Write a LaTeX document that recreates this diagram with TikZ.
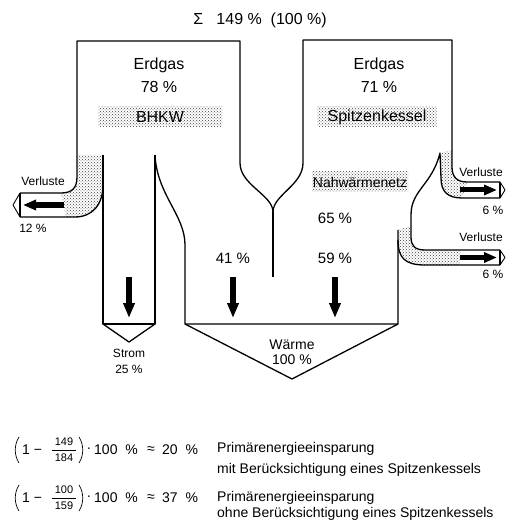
\documentclass[tikz,border=0pt]{standalone}
\usepackage{fontspec}
\setmainfont{Liberation Sans}
\usetikzlibrary{patterns,arrows.meta}
\begin{document}
\begin{tikzpicture}[x=1pt,y=-1pt,
  wall/.style={line width=1.3pt, line join=round},
  capline/.style={line width=0.9pt, line join=round},
  thinline/.style={line width=0.7pt},
  stip/.style={pattern=crosshatch dots, pattern color=black!75},
  vflow/.style={line width=6pt, -{Triangle[length=15pt,width=11pt]}},
  hflow/.style={line width=5pt, -{Triangle[length=13pt,width=10pt]}},
  big/.style={font=\fontsize{16}{19}\selectfont},
  mid/.style={font=\fontsize{15}{17}\selectfont},
  small/.style={font=\fontsize{12}{14}\selectfont},
  note/.style={font=\fontsize{14}{16}\selectfont, anchor=west, inner sep=0pt},
  fnum/.style={font=\fontsize{11}{12}\selectfont, inner sep=0pt},
  ftxt/.style={font=\fontsize{14}{16}\selectfont, inner sep=0pt},
]
\useasboundingbox (0,0) rectangle (506,521);

% key coordinates
\coordinate (lpTop) at (20,193);
\coordinate (lpBot) at (20,217);
\coordinate (yCusp) at (273,212);
\coordinate (yEnd) at (273,277);
\coordinate (rCusp) at (440,153);
\coordinate (ruTop) at (500,182);
\coordinate (ruBot) at (500,198);
\coordinate (rlTop) at (500,250);
\coordinate (rlBot) at (500,265);

% stippled loss streams
\fill[stip] (77,155) -- (77,177) .. controls (77,188) and (72,193) .. (61,193)
  -- (66,217) -- (75,217) .. controls (92,217) and (103,205) .. (103,185) -- (103,155) -- cycle;
\fill[stip] (rCusp) -- (452,150) -- (452,167) .. controls (452,177) and (457,182) .. (467,182)
  -- (462,198) .. controls (448,198) and (441,192) .. (441,178) -- cycle;
\fill[stip] (398,230) -- (411,226) -- (411,237) .. controls (411,246) and (415,250) .. (425,250)
  -- (460,250) -- (460,265) -- (425,265) .. controls (405,265) and (398,258) .. (398,240) -- cycle;

% outlines
\draw[wall] (lpTop) -- (61,193) .. controls (72,193) and (77,188) .. (77,177) -- (77,41)
  -- (240,41) -- (240,163) .. controls (240,185) and (273,195) .. (yCusp);
\draw[wall] (yCusp) .. controls (273,195) and (303,185) .. (303,163) -- (303,40)
  -- (452,40) -- (452,167) .. controls (452,177) and (457,182) .. (467,182) -- (ruTop);
\draw[wall] (yCusp) -- (yEnd);
\draw[wall] (lpBot) -- (75,217) .. controls (92,217) and (103,205) .. (103,185);
\draw[wall] (103,155) -- (103,324) -- (155,324) -- (155,155);
\draw[wall] (103,324) -- (129,342) -- (155,324);
\draw[wall] (155,155) .. controls (157,195) and (185,215) .. (185,245) -- (185,324)
  -- (398,324) -- (398,230);
\draw[wall] (185,324) -- (292,379) -- (398,324);
\draw[wall] (398,240) .. controls (398,258) and (405,265) .. (425,265) -- (rlBot);
\draw[wall] (ruBot) -- (462,198) .. controls (448,198) and (441,192) .. (441,178) -- (rCusp)
  .. controls (432,185) and (411,190) .. (411,215) -- (411,237)
  .. controls (411,246) and (415,250) .. (425,250) -- (rlTop);

% pipe end caps
\draw[wall] (lpTop) -- (lpBot);
\draw[capline] (lpTop) -- (13,205) -- (lpBot);
\draw[wall] (ruTop) -- (ruBot);
\draw[capline] (ruTop) -- (505,190) -- (ruBot);
\draw[wall] (rlTop) -- (rlBot);
\draw[capline] (rlTop) -- (505,257.5) -- (rlBot);

% flow arrows
\coordinate (aS1) at (129,277); \coordinate (aS2) at (129,318);
\coordinate (aA1) at (233,277); \coordinate (aA2) at (233,318);
\coordinate (aB1) at (335,277); \coordinate (aB2) at (335,318);
\coordinate (aL1) at (64,205);  \coordinate (aL2) at (23,205);
\coordinate (aU1) at (460,190); \coordinate (aU2) at (497,190);
\coordinate (aD1) at (460,257.5); \coordinate (aD2) at (497,257.5);
\draw[vflow] (aS1) -- (aS2);
\draw[vflow] (aA1) -- (aA2);
\draw[vflow] (aB1) -- (aB2);
\draw[hflow] (aL1) -- (aL2);
\draw[hflow] (aU1) -- (aU2);
\draw[hflow] (aD1) -- (aD2);

% labels
\node[big] (sum) at (260,20) {Σ\ \ \ 149\ \%\ \ (100\ \%)};
\node[big] (eg1) at (159,65) {Erdgas};
\node[big] (p78) at (159,87) {78\ \%};
\node[big, stip, minimum width=124pt, minimum height=20pt, inner sep=0pt] (bhkw) at (160,117) {BHKW};
\node[big] (eg2) at (379,65) {Erdgas};
\node[big] (p71) at (379,87) {71\ \%};
\node[big, stip, minimum width=119pt, minimum height=20pt, inner sep=0pt] (spk) at (377,117) {Spitzenkessel};
\node[font=\fontsize{14}{16}\selectfont, stip, minimum width=96pt, minimum height=20pt, inner sep=0pt] (nwn) at (360,182) {Nahwärmenetz};
\node[mid] (p65) at (335,218) {65\ \%};
\node[mid] (p59) at (335,258) {59\ \%};
\node[mid] (p41) at (233,258) {41\ \%};
\node[small] (vl) at (43,181) {Verluste};
\node[small] (p12) at (33,228) {12 \%};
\node[small] (vu) at (481,172) {Verluste};
\node[small] (p6a) at (493,210) {6 \%};
\node[small] (vd) at (481,237) {Verluste};
\node[small] (p6b) at (493,274) {6 \%};
\node[small] (strom) at (129,353) {Strom};
\node[small] (p25) at (129,369) {25 \%};
\node[font=\fontsize{14}{16}\selectfont] (waerme) at (292,345) {Wärme};
\node[font=\fontsize{14}{16}\selectfont] (p100) at (292,360) {100\ \%};

% formula 1
\draw[thinline] (19,437) .. controls (14,445) and (14,455) .. (19,463);
\node[ftxt, anchor=west] (one1) at (22,450) {1 −};
\node[fnum] (n1) at (64,442) {149};
\node[fnum] (d1) at (64,458) {184};
\coordinate (fb1a) at (52,450); \coordinate (fb1b) at (76,450);
\draw[thinline] (fb1a) -- (fb1b);
\draw[thinline] (79,437) .. controls (84,445) and (84,455) .. (79,463);
\node[ftxt] (dot1) at (89,450) {·};
\node[ftxt, anchor=west] (h1) at (94,450) {100\ \ \%};
\node[ftxt] (ap1) at (151,450) {≈};
\node[ftxt, anchor=west] (r1) at (162,450) {20\ \ \%};
\node[note] (t1a) at (217,449) {Primärenergieeinsparung};
\node[note] (t1b) at (217,470) {mit Berücksichtigung eines Spitzenkessels};

% formula 2
\draw[thinline] (19,485) .. controls (14,493) and (14,503) .. (19,511);
\node[ftxt, anchor=west] (one2) at (22,498) {1 −};
\node[fnum] (n2) at (64,490) {100};
\node[fnum] (d2) at (64,506) {159};
\coordinate (fb2a) at (52,498); \coordinate (fb2b) at (76,498);
\draw[thinline] (fb2a) -- (fb2b);
\draw[thinline] (79,485) .. controls (84,493) and (84,503) .. (79,511);
\node[ftxt] (dot2) at (89,498) {·};
\node[ftxt, anchor=west] (h2) at (94,498) {100\ \ \%};
\node[ftxt] (ap2) at (151,498) {≈};
\node[ftxt, anchor=west] (r2) at (162,498) {37\ \ \%};
\node[note] (t2a) at (217,498) {Primärenergieeinsparung};
\node[note] (t2b) at (217,514) {ohne Berücksichtigung eines Spitzenkessels};
\end{tikzpicture}
\end{document}
